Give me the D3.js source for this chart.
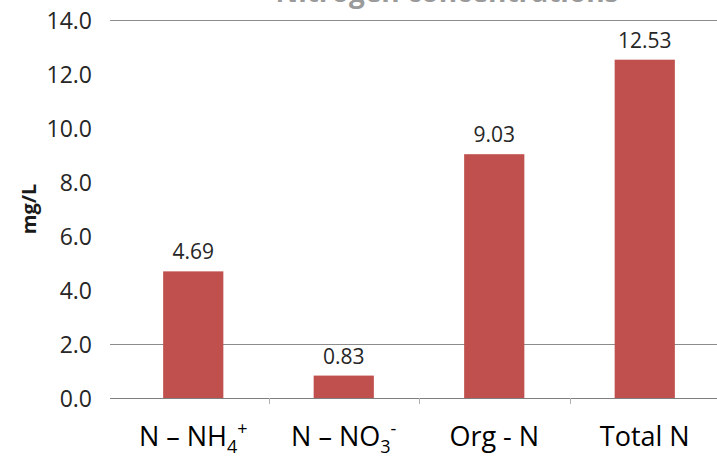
<!DOCTYPE html>
<html>
<head>
<meta charset="utf-8">
<script src="https://cdn.jsdelivr.net/npm/d3@7"></script>
<style>
  html, body { margin: 0; padding: 0; background: #fff; }
  svg { display: block; }
</style>
</head>
<body>
<svg id="chart" width="717" height="457"></svg>
<script>
// Nitrogen species concentrations (mg/L)
const categories = ["N – NH4+", "N – NO3-", "Org - N", "Total N"];
const values = [4.69, 0.83, 9.03, 12.53];
const valueLabels = ["4.69", "0.83", "9.03", "12.53"];
// Label parts: main text, subscript, superscript
const labelParts = [
  ["N – NH", "4", "+"],
  ["N – NO", "3", "-"],
  ["Org - N", "", ""],
  ["Total N", "", ""]
];
const yTicks = [0, 2, 4, 6, 8, 10, 12, 14];
const gridValues = [0, 2, 14];
const titleText = "Nitrogen concentrations";
const yTitle = "mg/L";

const svg = d3.select("#chart");
const font = "'Open Sans', sans-serif";

const plot = { left: 118, right: 720, top: 20, bottom: 398 };

const x = d3.scaleBand()
  .domain(categories)
  .range([plot.left, plot.right])
  .paddingInner(0.6)
  .paddingOuter(0.3);

const y = d3.scaleLinear()
  .domain([0, 14])
  .range([plot.bottom, plot.top]);

// Chart title (sits mostly above the visible frame)
svg.append("text")
  .attr("x", 447)
  .attr("y", 2)
  .attr("text-anchor", "middle")
  .attr("font-family", font)
  .attr("font-weight", "bold")
  .attr("font-size", 28)
  .attr("fill", "#9a9a9a")
  .text(titleText);

// Horizontal rules with outward tick marks
svg.append("g")
  .selectAll("line")
  .data(gridValues)
  .join("line")
  .attr("x1", plot.left - 8)
  .attr("x2", plot.right)
  .attr("y1", d => Math.round(y(d)) + 0.5)
  .attr("y2", d => Math.round(y(d)) + 0.5)
  .attr("stroke", d => d === 0 ? "#7f7f7f" : "#8c8c8c")
  .attr("stroke-width", 1);

// Y axis labels
const yAxis = d3.axisLeft(y)
  .tickValues(yTicks)
  .tickFormat(d3.format(".1f"))
  .tickSize(0)
  .tickPadding(0);

const yg = svg.append("g")
  .attr("transform", `translate(${plot.left - 26},0)`)
  .call(yAxis);
yg.select(".domain").remove();
yg.selectAll("text")
  .attr("font-family", font)
  .attr("font-size", 23)
  .attr("fill", "#262626")
  .attr("dy", "0.35em");

// Y axis title
svg.append("text")
  .attr("transform", "translate(36,209) rotate(-90)")
  .attr("text-anchor", "middle")
  .attr("font-family", font)
  .attr("font-weight", "bold")
  .attr("font-size", 20)
  .attr("fill", "#1a1a1a")
  .text(yTitle);

// Category boundary ticks below the baseline
const step = x.step();
const boundaries = categories.slice(1).map(c => x(c) - (step - x.bandwidth()) / 2);
svg.append("g")
  .selectAll("line")
  .data(boundaries)
  .join("line")
  .attr("x1", d => Math.round(d) + 0.5)
  .attr("x2", d => Math.round(d) + 0.5)
  .attr("y1", plot.bottom)
  .attr("y2", plot.bottom + 6)
  .attr("stroke", "#b0b0b0");

// Bars
svg.append("g")
  .selectAll("rect")
  .data(values)
  .join("rect")
  .attr("x", (d, i) => x(categories[i]))
  .attr("width", x.bandwidth())
  .attr("y", d => y(d))
  .attr("height", d => y(0) - y(d))
  .attr("fill", "#c0504d");

// Value labels above bars
svg.append("g")
  .selectAll("text")
  .data(values)
  .join("text")
  .attr("x", (d, i) => x(categories[i]) + x.bandwidth() / 2)
  .attr("y", d => y(d) - 12)
  .attr("text-anchor", "middle")
  .attr("font-family", font)
  .attr("font-size", 21)
  .attr("fill", "#262626")
  .text((d, i) => valueLabels[i]);

// Category labels with sub/superscripts
const cat = svg.append("g")
  .selectAll("text")
  .data(labelParts)
  .join("text")
  .attr("x", (d, i) => x(categories[i]) + x.bandwidth() / 2)
  .attr("y", 446)
  .attr("text-anchor", "middle")
  .attr("font-family", font)
  .attr("font-size", 27)
  .attr("fill", "#000");

cat.each(function(d) {
  const t = d3.select(this);
  t.append("tspan").text(d[0]);
  if (d[1]) {
    t.append("tspan").attr("font-size", 18).attr("dy", 7).text(d[1]);
  }
  if (d[2]) {
    t.append("tspan").attr("font-size", 18).attr("dy", -18).text(d[2]);
  }
});
</script>
</body>
</html>
